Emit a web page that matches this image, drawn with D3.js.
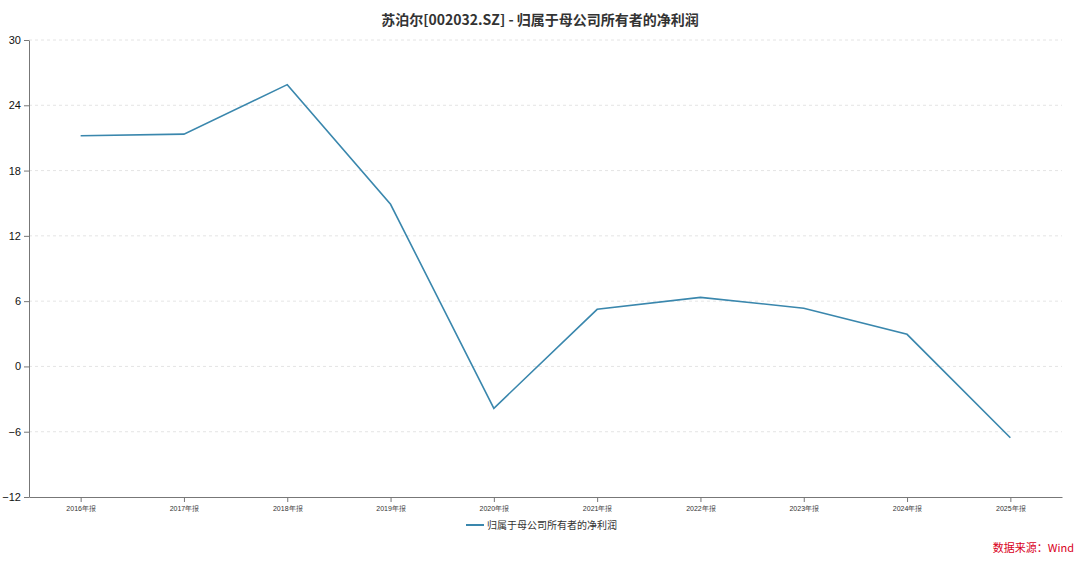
<!DOCTYPE html>
<html>
<head>
<meta charset="utf-8">
<script src="https://cdn.jsdelivr.net/npm/d3@7"></script>
<style>
  body { margin: 0; background: #fff; font-family: "Noto Sans CJK SC", "Noto Sans", sans-serif; }
</style>
</head>
<body>
<div id="chart"></div>
<script>
// data
const years = ["2016年报","2017年报","2018年报","2019年报","2020年报","2021年报","2022年报","2023年报","2024年报","2025年报"];
const profit = [21.2, 21.35, 25.9, 14.9, -3.85, 5.25, 6.35, 5.35, 2.95, -6.55];
const yTicks = [-12, -6, 0, 6, 12, 18, 24, 30];

const w = 1080, h = 561;
const margin = { top: 40, right: 18, bottom: 64, left: 29 };

const svg = d3.select("#chart").append("svg")
  .attr("width", w).attr("height", h)
  .style("font-family", '"Noto Sans CJK SC", "Noto Sans", sans-serif');

const x = d3.scalePoint().domain(years).range([margin.left, w - margin.right]).padding(0.5);
const y = d3.scaleLinear().domain([-12, 30]).range([h - margin.bottom, margin.top]);

// title
svg.append("text").attr("x", w / 2).attr("y", 25).attr("text-anchor", "middle")
  .attr("font-size", 14).attr("font-weight", "bold").attr("fill", "#333")
  .text("苏泊尔[002032.SZ] - 归属于母公司所有者的净利润");

// grid lines
svg.append("g").selectAll("line").data(yTicks.filter(d => d != -12)).enter().append("line")
  .attr("x1", margin.left).attr("x2", w - margin.right)
  .attr("y1", d => y(d)).attr("y2", d => y(d))
  .attr("stroke", "#ddd").attr("stroke-dasharray", "3,3").attr("stroke-width", 0.8);

// y axis
const gy = svg.append("g").attr("transform", `translate(${margin.left},0)`)
  .call(d3.axisLeft(y).tickValues(yTicks).tickSize(5).tickSizeOuter(0));
gy.select(".domain").attr("stroke", "#777");
gy.selectAll(".tick line").attr("stroke", "#777");
gy.selectAll("text").attr("font-size", 11).attr("fill", "#111").attr("font-family", "Liberation Sans, Arial, sans-serif");

// x axis
const gx = svg.append("g").attr("transform", `translate(0,${h - margin.bottom})`)
  .call(d3.axisBottom(x).tickSize(5).tickSizeOuter(0));
gx.select(".domain").attr("stroke", "#777");
gx.selectAll(".tick line").attr("stroke", "#777");
gx.selectAll("text").attr("font-size", 7).attr("fill", "#333").attr("dy", "0.9em");

// line
const line = d3.line().x((d, i) => x(years[i])).y(d => y(d));
svg.append("path").datum(profit).attr("d", line)
  .attr("fill", "none").attr("stroke", "#3a87ad").attr("stroke-width", 1.6);

// legend
const lg = svg.append("g").attr("transform", `translate(466,525)`);
lg.append("line").attr("x1", 0).attr("x2", 18).attr("stroke", "#3a87ad").attr("stroke-width", 2);
lg.append("text").attr("x", 21).attr("y", 4).attr("font-size", 10).attr("fill", "#333")
  .text("归属于母公司所有者的净利润");

// source
svg.append("text").attr("x", 1074).attr("y", 552).attr("text-anchor", "end")
  .attr("font-size", 11).attr("fill", "#d9001b").text("数据来源：Wind");
</script>
</body>
</html>
